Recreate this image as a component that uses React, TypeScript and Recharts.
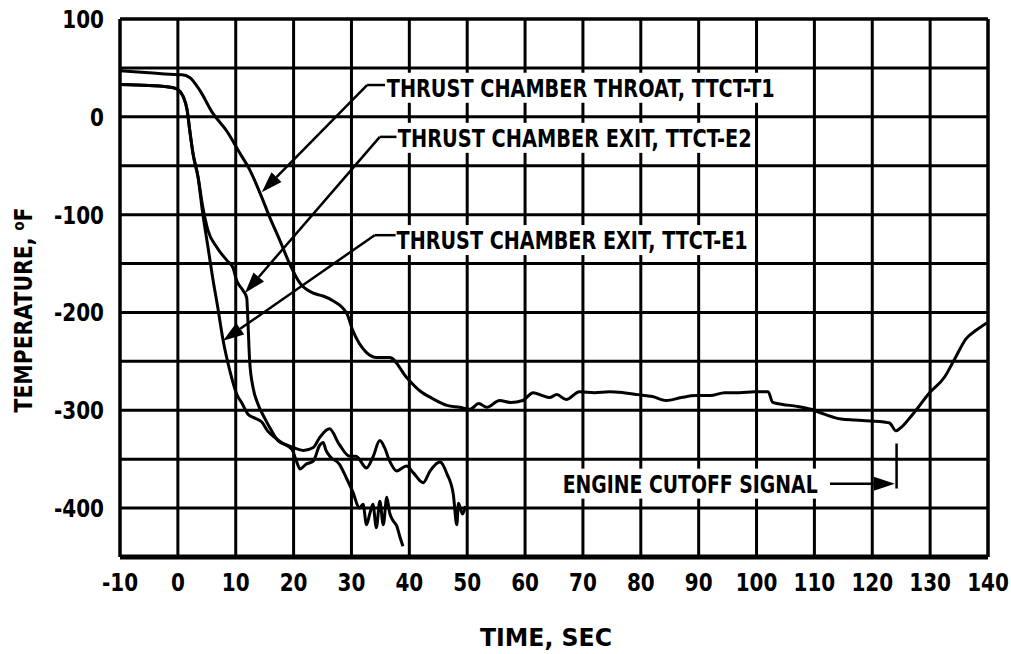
import React from "react";
import {
  CartesianGrid,
  Line,
  LineChart,
  ReferenceDot,
  ReferenceLine,
  XAxis,
  YAxis,
} from "recharts";

// axis ticks
const timeTicks = [-10, 0, 10, 20, 30, 40, 50, 60, 70, 80, 90, 100, 110, 120, 130, 140];
const tempTicks = [-450, -400, -350, -300, -250, -200, -150, -100, -50, 0, 50, 100];
const tempLabelled = [100, 0, -100, -200, -300, -400];

// thrust chamber throat, TTCT-T1
const throatTime = [
  -10, -5, 0, 0.7, 2.1, 3.8, 6, 8.5, 10.7, 12.4, 14.2, 15.9, 17.6, 19.3, 21.1,
  23.3, 25, 26.8, 29.2, 30.2, 32.6, 34.4, 36.6, 39.6, 41.8, 44, 46.5, 48.7,
  50.5, 52, 53.4, 55.6, 57.5, 59.6, 61.4, 63, 64.2, 65.5, 67.1, 69.4, 72, 74.6,
  77, 79.5, 82, 84.4, 87, 89.5, 92, 94.5, 97, 99.7, 102, 102.8, 104.5, 107,
  109.4, 111.7, 114.6, 117, 119.6, 122, 123, 124.1, 124.7, 127, 129.9, 132.5,
  134.2, 136.2, 138, 140,
];
const throatTemp = [
  47, 45, 43, 43, 40, 27, 4, -15, -37, -54, -78, -103, -126, -150, -170, -180,
  -183, -188, -201, -218, -241, -246, -246, -267, -280, -288, -295, -297, -299,
  -293, -297, -290, -292, -290, -282, -285, -287, -284, -289, -281, -282, -281,
  -282, -284, -286, -290, -287, -285, -285, -282, -282, -281, -281, -292, -294,
  -296, -299, -304, -309, -310, -311, -312, -313, -321, -319, -304, -282, -266,
  -248, -227, -218, -210,
];

// thrust chamber exit, TTCT-E1
const exitE1Time = [
  -10, -5, -1, 0, 0.9, 1.6, 2.1, 2.6, 3.5, 4.3, 5.2, 6, 6.9, 7.8, 9, 10.2, 11.1,
  12.1, 13.3, 14.5, 15.5, 16.8, 17.9, 19.7, 20.5, 21.1, 22.2, 23.4, 24.5, 25.1,
  25.6, 26.4, 27.9, 29.1, 30.2, 31.4, 32, 32.6, 33.2, 33.7, 34.3, 34.9, 35.5,
  36.1, 36.6, 37.2, 37.8, 38.4, 38.9,
];
const exitE1Temp = [
  33, 32, 30, 28, 21, 7, -16, -37, -62, -99, -133, -164, -195, -228, -260, -284,
  -293, -304, -308, -312, -321, -328, -333, -340, -352, -360, -355, -352, -336,
  -333, -341, -348, -355, -369, -383, -400, -396, -417, -405, -396, -420, -393,
  -417, -389, -405, -413, -418, -430, -439,
];

// thrust chamber exit, TTCT-E2
const exitE2Time = [
  -10, -5, -1, 0, 0.9, 1.6, 2.1, 2.6, 3.5, 4.3, 5.2, 6.7, 8.5, 9.5, 10.2, 11.2,
  11.9, 12.1, 12.4, 13, 13.8, 15, 16.2, 17.3, 19, 19.9, 21.7, 23.4, 24.5, 26.2,
  27.9, 29.7, 30.8, 32.6, 33.7, 34.9, 35.7, 36.6, 37.8, 39.5, 40.7, 42.4, 43.6,
  45.3, 46.5, 47.6, 48.2, 48.5, 48.8, 49.2, 49.7,
];
const exitE2Temp = [
  33, 32, 30, 28, 21, 7, -16, -37, -62, -92, -116, -133, -147, -154, -168, -177,
  -185, -208, -249, -277, -293, -308, -321, -331, -336, -338, -341, -338, -328,
  -319, -335, -347, -347, -359, -348, -331, -338, -352, -362, -357, -364, -374,
  -362, -353, -365, -386, -417, -395, -400, -406, -398,
];

const toPoints = (time: number[], temp: number[]) =>
  time.map((t, i) => ({ t, v: temp[i] }));

const throatData = toPoints(throatTime, throatTemp);
const exitE1Data = toPoints(exitE1Time, exitE1Temp);
const exitE2Data = toPoints(exitE2Time, exitE2Temp);

const font = "'DejaVu Sans', sans-serif";
const ink = "#000";

function ArrowLine(props: any) {
  const { x1, y1, x2, y2 } = props;
  const dx = x2 - x1;
  const dy = y2 - y1;
  const len = Math.hypot(dx, dy) || 1;
  const ux = dx / len;
  const uy = dy / len;
  const head = 21;
  const half = 7;
  const bx = x2 - ux * head;
  const by = y2 - uy * head;
  const pts = `${x2},${y2} ${bx - uy * half},${by + ux * half} ${bx + uy * half},${by - ux * half}`;
  return (
    <g>
      <line x1={x1} y1={y1} x2={bx} y2={by} stroke={ink} strokeWidth={2.5} />
      <polygon points={pts} fill={ink} />
    </g>
  );
}

function PlainLine(props: any) {
  const { x1, y1, x2, y2 } = props;
  return <line x1={x1} y1={y1} x2={x2} y2={y2} stroke={ink} strokeWidth={2.5} />;
}

function GridLine(props: any) {
  const { x1, y1, x2, y2 } = props;
  return <line x1={x1} y1={y1} x2={x2} y2={y2} stroke={ink} strokeWidth={3} />;
}

function NoteText({ cx, cy, text, width }: any) {
  return (
    <g>
      <rect x={cx - 1} y={cy - 15} width={width + 4} height={30} fill="#fff" />
      <text
        x={cx}
        y={cy + 9}
        fontFamily={font}
        fontWeight="bold"
        fontSize={25}
        fill={ink}
        textLength={width}
        lengthAdjust="spacingAndGlyphs"
      >
        {text}
      </text>
    </g>
  );
}

// condensed tick lettering
function TimeTick({ x, y, payload }: any) {
  return (
    <g transform={`translate(${x},${y}) scale(0.8,1)`}>
      <text x={0} y={0} dy={18} textAnchor="middle" fontFamily={font} fontWeight="bold" fontSize={25} fill={ink}>
        {payload.value}
      </text>
    </g>
  );
}

function TempTick({ x, y, payload }: any) {
  if (!tempLabelled.includes(payload.value)) return null;
  return (
    <g transform={`translate(${x},${y}) scale(0.8,1)`}>
      <text x={0} y={0} dy={9} textAnchor="end" fontFamily={font} fontWeight="bold" fontSize={25} fill={ink}>
        {payload.value}
      </text>
    </g>
  );
}

export default function App() {
  return (
    <div style={{ position: "absolute", left: 0, top: 0, background: "#fff" }}>
      <LineChart width={1011} height={654} margin={{ top: 19, right: 23, bottom: 0, left: 0 }}>
        <CartesianGrid horizontal={GridLine} vertical={GridLine} />
        <XAxis
          type="number"
          dataKey="t"
          domain={[-10, 140]}
          ticks={timeTicks}
          interval={0}
          allowDataOverflow
          height={97}
          tickLine={false}
          tickSize={0}
          tickMargin={16}
          axisLine={{ stroke: ink, strokeWidth: 5 }}
          tick={<TimeTick />}
          label={{
            content: ({ viewBox }: any) => (
              <text
                x={viewBox.x + 426}
                y={viewBox.y + 89}
                textAnchor="middle"
                fontFamily={font}
                fontWeight="bold"
                fontSize={25}
                fill={ink}
                textLength={132}
                lengthAdjust="spacingAndGlyphs"
              >
                TIME, SEC
              </text>
            ),
          }}
        />
        <YAxis
          type="number"
          dataKey="v"
          domain={[-450, 100]}
          ticks={tempTicks}
          interval={0}
          allowDataOverflow
          width={120}
          tickLine={false}
          tickSize={0}
          tickMargin={16}
          axisLine={{ stroke: ink, strokeWidth: 3 }}
          tick={<TempTick />}
          label={{
            content: ({ viewBox }: any) => (
              <text
                x={viewBox.x + 32}
                y={viewBox.y + 291}
                transform={`rotate(-90 ${viewBox.x + 32} ${viewBox.y + 291})`}
                textAnchor="middle"
                fontFamily={font}
                fontWeight="bold"
                fontSize={25}
                fill={ink}
                textLength={205}
                lengthAdjust="spacingAndGlyphs"
              >
                TEMPERATURE, <tspan fontSize={16} dy={-8}>o</tspan>
                <tspan dy={8}>F</tspan>
              </text>
            ),
          }}
        />
        <ReferenceLine y={100} stroke={ink} strokeWidth={3} />
        <ReferenceLine x={140} stroke={ink} strokeWidth={3} />

        <Line data={throatData} dataKey="v" type="monotone" stroke={ink} strokeWidth={3} dot={false} activeDot={false} isAnimationActive={false} />
        <Line data={exitE1Data} dataKey="v" type="monotone" stroke={ink} strokeWidth={3} dot={false} activeDot={false} isAnimationActive={false} />
        <Line data={exitE2Data} dataKey="v" type="monotone" stroke={ink} strokeWidth={3} dot={false} activeDot={false} isAnimationActive={false} />

        {/* callout leaders */}
        <ReferenceLine segment={[{ x: 35.8, y: 32.5 }, { x: 32.7, y: 32.5 }]} shape={PlainLine} />
        <ReferenceLine segment={[{ x: 32.7, y: 32.5 }, { x: 14.5, y: -77 }]} shape={ArrowLine} />
        <ReferenceLine segment={[{ x: 37.8, y: -20.5 }, { x: 34.9, y: -20.5 }]} shape={PlainLine} />
        <ReferenceLine segment={[{ x: 34.9, y: -20.5 }, { x: 11.6, y: -180 }]} shape={ArrowLine} />
        <ReferenceLine segment={[{ x: 37.7, y: -121 }, { x: 34, y: -121 }]} shape={PlainLine} />
        <ReferenceLine segment={[{ x: 34, y: -121 }, { x: 7.8, y: -229 }]} shape={ArrowLine} />

        <ReferenceDot x={36.1} y={29.7} r={0} shape={(p: any) => <NoteText {...p} text="THRUST CHAMBER THROAT, TTCT-T1" width={388} />} />
        <ReferenceDot x={38} y={-21.5} r={0} shape={(p: any) => <NoteText {...p} text="THRUST CHAMBER EXIT, TTCT-E2" width={354} />} />
        <ReferenceDot x={37.8} y={-126} r={0} shape={(p: any) => <NoteText {...p} text="THRUST CHAMBER EXIT, TTCT-E1" width={351} />} />

        {/* engine cutoff */}
        <ReferenceDot x={66.5} y={-375} r={0} shape={(p: any) => <NoteText {...p} text="ENGINE CUTOFF SIGNAL" width={255} />} />
        <ReferenceLine segment={[{ x: 112.7, y: -375 }, { x: 123.9, y: -375 }]} shape={ArrowLine} />
        <ReferenceLine segment={[{ x: 124.2, y: -334 }, { x: 124.2, y: -380 }]} shape={PlainLine} />
      </LineChart>
    </div>
  );
}
